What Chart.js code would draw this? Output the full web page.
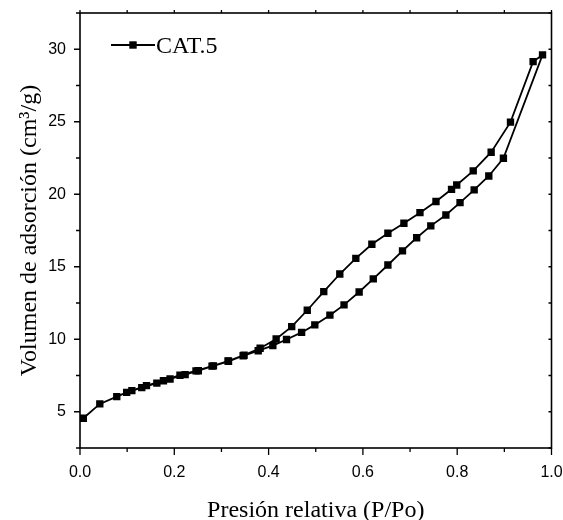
<!DOCTYPE html>
<html>
<head>
<meta charset="utf-8">
<script src="https://cdn.jsdelivr.net/npm/chart.js@4/dist/chart.umd.min.js"></script>
<style>
  html, body { margin: 0; padding: 0; background: #ffffff; }
  #wrap { width: 563px; height: 520px; }
</style>
</head>
<body>
<div id="wrap"><canvas id="c" width="563" height="520"></canvas></div>
<script>
// Series label
const seriesLabel = 'CAT.5';

// Adsorption branch (relative pressure P/Po, volume cm3/g)
const adsorptionP = [0.007, 0.042, 0.078, 0.099, 0.131, 0.163, 0.191, 0.223, 0.251, 0.283,
                     0.315, 0.346, 0.378, 0.409, 0.438, 0.470, 0.498, 0.530, 0.560, 0.592,
                     0.622, 0.653, 0.684, 0.714, 0.744, 0.776, 0.806, 0.836, 0.867, 0.898, 0.981];
const adsorptionV = [4.55, 5.54, 6.04, 6.34, 6.66, 6.97, 7.26, 7.56, 7.83, 8.16,
                     8.48, 8.86, 9.21, 9.56, 9.98, 10.47, 10.99, 11.66, 12.37, 13.26,
                     14.16, 15.12, 16.09, 17.00, 17.82, 18.57, 19.42, 20.30, 21.26, 22.48, 29.61];

// Desorption branch
const desorptionP = [0.961, 0.913, 0.872, 0.834, 0.799, 0.788, 0.755, 0.721, 0.687, 0.653,
                     0.619, 0.585, 0.551, 0.517, 0.482, 0.449, 0.416, 0.382, 0.348, 0.314,
                     0.280, 0.246, 0.212, 0.177, 0.141, 0.110];
const desorptionV = [29.15, 24.97, 22.90, 21.61, 20.64, 20.34, 19.50, 18.73, 18.00, 17.31,
                     16.55, 15.58, 14.50, 13.28, 12.00, 10.87, 10.02, 9.38, 8.90, 8.50,
                     8.15, 7.82, 7.52, 7.14, 6.80, 6.46];

// Axis ticks
const xTicks = [0.0, 0.2, 0.4, 0.6, 0.8, 1.0];
const xMinorTicks = [0.1, 0.3, 0.5, 0.7, 0.9];
const yTicks = [5, 10, 15, 20, 25, 30];
const yMinorTicks = [2.5, 7.5, 12.5, 17.5, 22.5, 27.5, 32.5];

const xTitle = 'Presión relativa (P/Po)';
const yTitle = 'Volumen de adsorción (cm³/g)';

const points = adsorptionP.map((p, i) => ({x: p, y: adsorptionV[i]}))
  .concat(desorptionP.map((p, i) => ({x: p, y: desorptionV[i]})));

const frameAndLegend = {
  id: 'frameAndLegend',
  afterDraw(chart) {
    const ctx = chart.ctx;
    const a = chart.chartArea;
    const sx = chart.scales.x, sy = chart.scales.y;
    ctx.save();
    ctx.strokeStyle = '#000';
    ctx.lineWidth = 1.6;
    ctx.strokeRect(a.left, a.top, a.right - a.left, a.bottom - a.top);
    ctx.lineWidth = 1.3;
    ctx.beginPath();
    xTicks.forEach(v => { const px = sx.getPixelForValue(v);
      ctx.moveTo(px, a.bottom); ctx.lineTo(px, a.bottom + 7);
      ctx.moveTo(px, a.top); ctx.lineTo(px, a.top - 3); });
    xMinorTicks.forEach(v => { const px = sx.getPixelForValue(v);
      ctx.moveTo(px, a.bottom); ctx.lineTo(px, a.bottom + 4);
      ctx.moveTo(px, a.top); ctx.lineTo(px, a.top - 3); });
    yTicks.forEach(v => { const py = sy.getPixelForValue(v);
      ctx.moveTo(a.left, py); ctx.lineTo(a.left - 6, py);
      ctx.moveTo(a.right, py); ctx.lineTo(a.right - 3, py); });
    yMinorTicks.forEach(v => { const py = sy.getPixelForValue(v);
      ctx.moveTo(a.left, py); ctx.lineTo(a.left - 4, py);
      ctx.moveTo(a.right, py); ctx.lineTo(a.right - 3, py); });
    ctx.stroke();

    // legend
    const lx = a.left + 31, ly = a.top + 32;
    ctx.lineWidth = 1.8;
    ctx.beginPath();
    ctx.moveTo(lx, ly); ctx.lineTo(lx + 44, ly);
    ctx.stroke();
    ctx.fillStyle = '#000';
    ctx.fillRect(lx + 22 - 3.7, ly - 3.7, 7.4, 7.4);
    ctx.font = '24px "Liberation Serif", "Times New Roman", serif';
    ctx.textBaseline = 'alphabetic';
    ctx.textAlign = 'left';
    ctx.fillText(chart.data.datasets[0].label, lx + 45, ly + 8.3);
    ctx.restore();
  }
};

new Chart(document.getElementById('c'), {
  type: 'scatter',
  data: {
    datasets: [{
      label: seriesLabel,
      data: points,
      showLine: true,
      borderColor: '#000',
      backgroundColor: '#000',
      borderWidth: 1.8,
      pointStyle: 'rect',
      pointRadius: 5.2,
      pointBorderWidth: 0,
      tension: 0
    }]
  },
  options: {
    responsive: false,
    animation: false,
    devicePixelRatio: 1,
    layout: { padding: { top: 13, right: 11.5, left: 0, bottom: 0 } },
    plugins: { legend: { display: false }, tooltip: { enabled: false } },
    scales: {
      x: {
        type: 'linear', min: 0, max: 1,
        afterBuildTicks: s => { s.ticks = xTicks.map(v => ({value: v})); },
        afterFit: s => { s.height = 72; s.paddingLeft = 0; s.paddingRight = 0; },
        grid: { display: false, drawTicks: false },
        border: { display: false },
        ticks: {
          padding: 15,
          color: '#000',
          font: { family: '"Liberation Sans", Arial, sans-serif', size: 16 },
          callback: v => Number(v).toFixed(1)
        },
        title: {
          display: true, text: xTitle, color: '#000',
          font: { family: '"Liberation Serif", "Times New Roman", serif', size: 24, lineHeight: 0.8 },
          padding: { top: 0, bottom: 0 }
        }
      },
      y: {
        type: 'linear', min: 2.5, max: 32.5,
        afterBuildTicks: s => { s.ticks = yTicks.map(v => ({value: v})); },
        afterFit: s => { s.width = 80; s.paddingTop = 0; s.paddingBottom = 0; },
        grid: { display: false, drawTicks: false },
        border: { display: false },
        ticks: {
          padding: 14,
          color: '#000',
          font: { family: '"Liberation Sans", Arial, sans-serif', size: 16 },
          callback: v => String(v)
        },
        title: {
          display: true, text: yTitle, color: '#000',
          font: { family: '"Liberation Serif", "Times New Roman", serif', size: 24, lineHeight: 1.2 },
          padding: { top: 15, bottom: 0 }
        }
      }
    }
  },
  plugins: [frameAndLegend]
});
</script>
</body>
</html>
